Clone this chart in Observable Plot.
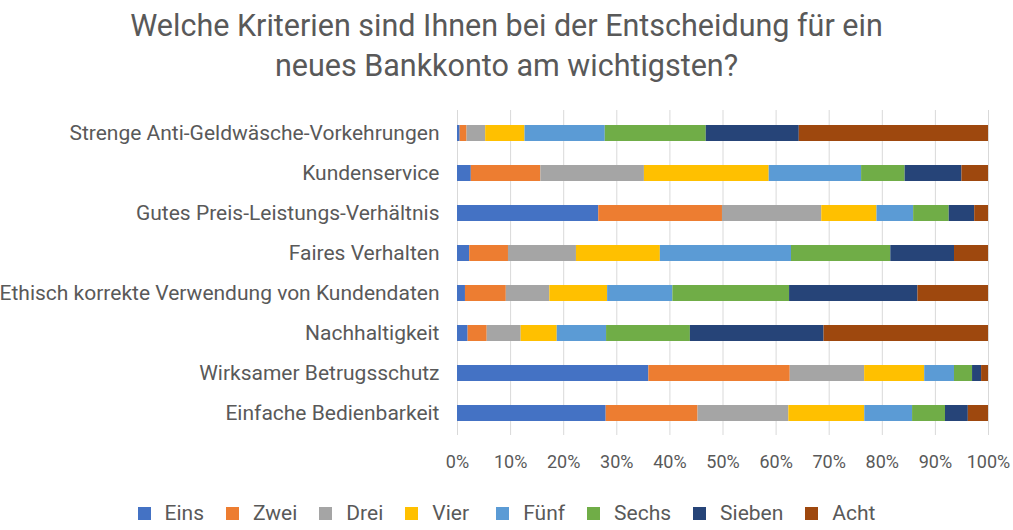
<!DOCTYPE html>
<html><head><meta charset="utf-8">
<script src="https://cdn.jsdelivr.net/npm/d3@7"></script>
<script src="https://cdn.jsdelivr.net/npm/@observablehq/plot@0.6"></script>
<style>
body{margin:0;background:#fff;font-family:Roboto,sans-serif;}
#wrap{position:relative;width:1013px;height:530px;overflow:hidden;}
#title{position:absolute;left:0;top:6px;width:1013px;text-align:center;font-size:30.5px;line-height:40px;color:#595959;}
#legend{position:absolute;left:0;top:500px;width:1013px;display:flex;justify-content:center;font-size:21px;color:#595959;line-height:26px;}
.item{display:flex;align-items:center;margin:0 11px;white-space:pre;}
.sw{width:13px;height:13px;margin-right:14px;}
</style></head>
<body><div id="wrap"><div id="chart"></div>
<div id="title">Welche Kriterien sind Ihnen bei der Entscheidung für ein<br>neues Bankkonto am wichtigsten?</div>
<div id="legend"></div></div>
<script>
const categories = [
  "Strenge Anti-Geldwäsche-Vorkehrungen",
  "Kundenservice",
  "Gutes Preis-Leistungs-Verhältnis",
  "Faires Verhalten",
  "Ethisch korrekte Verwendung von Kundendaten",
  "Nachhaltigkeit",
  "Wirksamer Betrugsschutz",
  "Einfache Bedienbarkeit"
];
const series = ["Eins", "Zwei", "Drei", "Vier ", "Fünf", "Sechs", "Sieben", "Acht"];
const colors = ["#4472c4", "#ed7d31", "#a5a5a5", "#ffc000", "#5b9bd5", "#70ad47", "#264478", "#9e480e"];
const eins   = [0.5, 2.6, 26.6, 2.3, 1.5, 2.0, 36.0, 28.0];
const zwei   = [1.3, 13.1, 23.3, 7.3, 7.7, 3.6, 26.6, 17.3];
const drei   = [3.5, 19.5, 18.7, 12.8, 8.2, 6.4, 14.0, 17.1];
const vier   = [7.4, 23.5, 10.4, 15.8, 10.9, 6.8, 11.3, 14.3];
const fuenf  = [15.1, 17.4, 6.9, 24.7, 12.3, 9.3, 5.6, 9.0];
const sechs  = [19.0, 8.2, 6.7, 18.7, 22.0, 15.8, 3.4, 6.2];
const sieben = [17.5, 10.7, 4.8, 12.0, 24.2, 25.2, 1.7, 4.3];
const acht   = [35.6, 5.0, 2.6, 6.4, 13.3, 31.0, 1.3, 3.8];
const xTicks = [0, 0.1, 0.2, 0.3, 0.4, 0.5, 0.6, 0.7, 0.8, 0.9, 1];

const valuesBySeries = [eins, zwei, drei, vier, fuenf, sechs, sieben, acht];
const data = [];
categories.forEach((c, i) => {
  series.forEach((s, j) => data.push({category: c, series: s, value: valuesBySeries[j][i]}));
});

const chart = Plot.plot({
  width: 1013,
  height: 530,
  marginTop: 110,
  marginBottom: 95,
  marginLeft: 457,
  marginRight: 25,
  style: {fontFamily: "Roboto, sans-serif", color: "#595959", background: "#fff"},
  x: {domain: [0, 1]},
  y: {domain: categories, paddingInner: 0.6, paddingOuter: 0.32},
  color: {domain: series, range: colors},
  marks: [
    Plot.ruleX(xTicks, {stroke: "#d9d9d9", strokeWidth: 1}),
    Plot.barX(data, Plot.stackX({x: "value", y: "category", fill: "series", offset: "normalize", order: null})),
    Plot.axisX({ticks: xTicks, tickFormat: d3.format(".0%"), tickSize: 0, tickPadding: 20, fontSize: 18, label: null, fill: "#595959"}),
    Plot.axisY({tickSize: 0, tickPadding: 18, fontSize: 21, label: null, fill: "#595959"})
  ]
});
document.getElementById("chart").appendChild(chart);

const legend = document.getElementById("legend");
series.forEach((s, j) => {
  const it = document.createElement("div");
  it.className = "item";
  const sw = document.createElement("div");
  sw.className = "sw";
  sw.style.background = colors[j];
  const t = document.createElement("span");
  t.textContent = s;
  it.appendChild(sw); it.appendChild(t);
  legend.appendChild(it);
});
</script></body></html>
